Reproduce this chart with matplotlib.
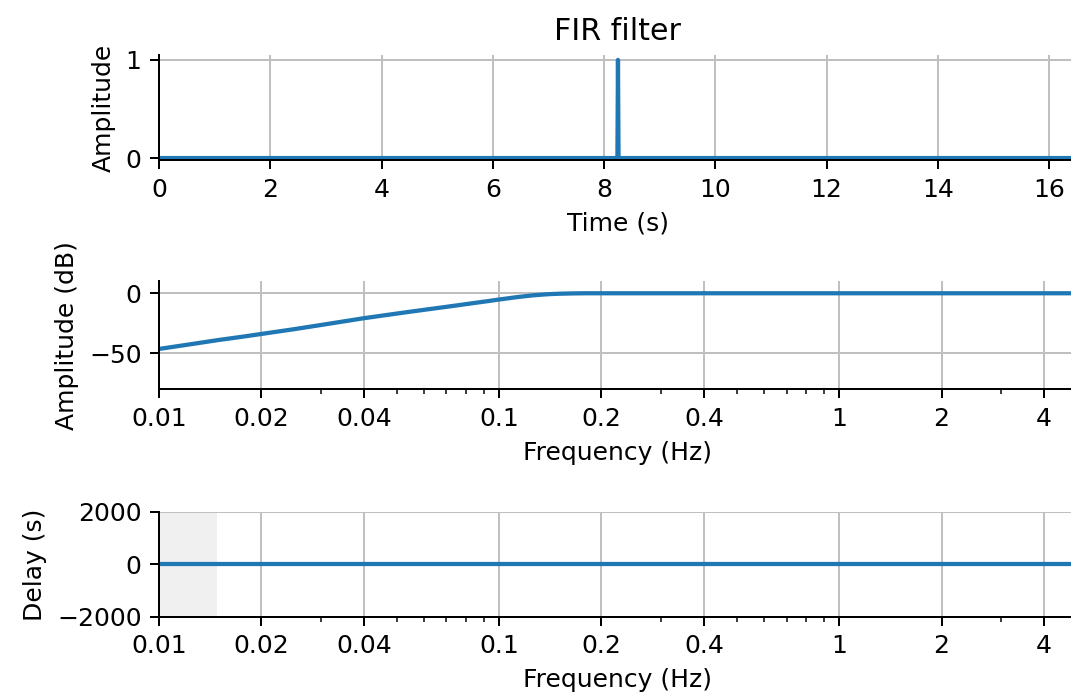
import matplotlib
matplotlib.use('Agg')
import matplotlib.pyplot as plt
from matplotlib.ticker import NullFormatter

# impulse response of the filter (time in s)
impulse_t = [0.0, 8.24, 8.25, 8.26, 16.5]
impulse_h = [0.0, 0.0, 1.0, 0.0, 0.0]

# magnitude response
freqs = [0.01, 0.0125, 0.015, 0.0175, 0.02, 0.025, 0.03, 0.035, 0.04, 0.047,
         0.055, 0.062, 0.07, 0.077, 0.085, 0.093, 0.1, 0.107, 0.113, 0.119,
         0.125, 0.133, 0.141, 0.15, 0.16, 0.17, 0.18, 0.2, 0.5, 1.0, 2.0, 5.0]
gain_db = [-46.4, -42.3, -38.9, -36.3, -33.9, -29.9, -26.4, -23.4, -20.8, -18.0,
           -15.3, -13.3, -11.3, -9.7, -8.0, -6.5, -5.2, -4.1, -3.2, -2.5,
           -1.8, -1.2, -0.7, -0.4, -0.2, -0.08, 0.0, 0.0, 0.0, 0.0, 0.0, 0.0]

# group delay
delay_f = [0.01, 0.1, 1.0, 5.0]
delay_s = [0.0, 0.0, 0.0, 0.0]
shade_band = (0.01, 0.0148)

freq_ticks = [0.01, 0.02, 0.04, 0.1, 0.2, 0.4, 1, 2, 4]
freq_labels = ['0.01', '0.02', '0.04', '0.1', '0.2', '0.4', '1', '2', '4']

fig = plt.figure(figsize=(1071 / 180, 700 / 180), dpi=180)
left, width = 0.1485, 0.857
ax_t = fig.add_axes((left, 0.7714, width, 0.15))
ax_m = fig.add_axes((left, 0.4439, width, 0.1543))
ax_d = fig.add_axes((left, 0.1186, width, 0.15))

lw = 1.7

ax_t.plot(impulse_t, impulse_h, color='C0', lw=lw)
ax_t.set(xlim=(0, 16.5), ylim=(-0.02, 1.05), yticks=[0, 1],
         xlabel='Time (s)', ylabel='Amplitude')
ax_t.set_title('FIR filter', fontsize=12)

ax_m.plot(freqs, gain_db, color='C0', lw=lw)
ax_m.set_xscale('log')
ax_m.set(xlim=(0.01, 5), ylim=(-80, 10), yticks=[-50, 0],
         xlabel='Frequency (Hz)', ylabel='Amplitude (dB)')

ax_d.axvspan(*shade_band, color='0.94', zorder=0, lw=0)
ax_d.plot(delay_f, delay_s, color='C0', lw=lw)
ax_d.set_xscale('log')
ax_d.set(xlim=(0.01, 5), ylim=(-2000, 2000), yticks=[-2000, 0, 2000],
         xlabel='Frequency (Hz)', ylabel='Delay (s)')

for ax in (ax_m, ax_d):
    ax.set_xticks(freq_ticks)
    ax.set_xticklabels(freq_labels)
    ax.xaxis.set_minor_formatter(NullFormatter())

for ax in (ax_t, ax_m, ax_d):
    ax.grid(True, color='#c0c0c0')
    ax.spines['top'].set_visible(False)
    ax.spines['right'].set_visible(False)

fig.savefig('out.png', dpi=180)
